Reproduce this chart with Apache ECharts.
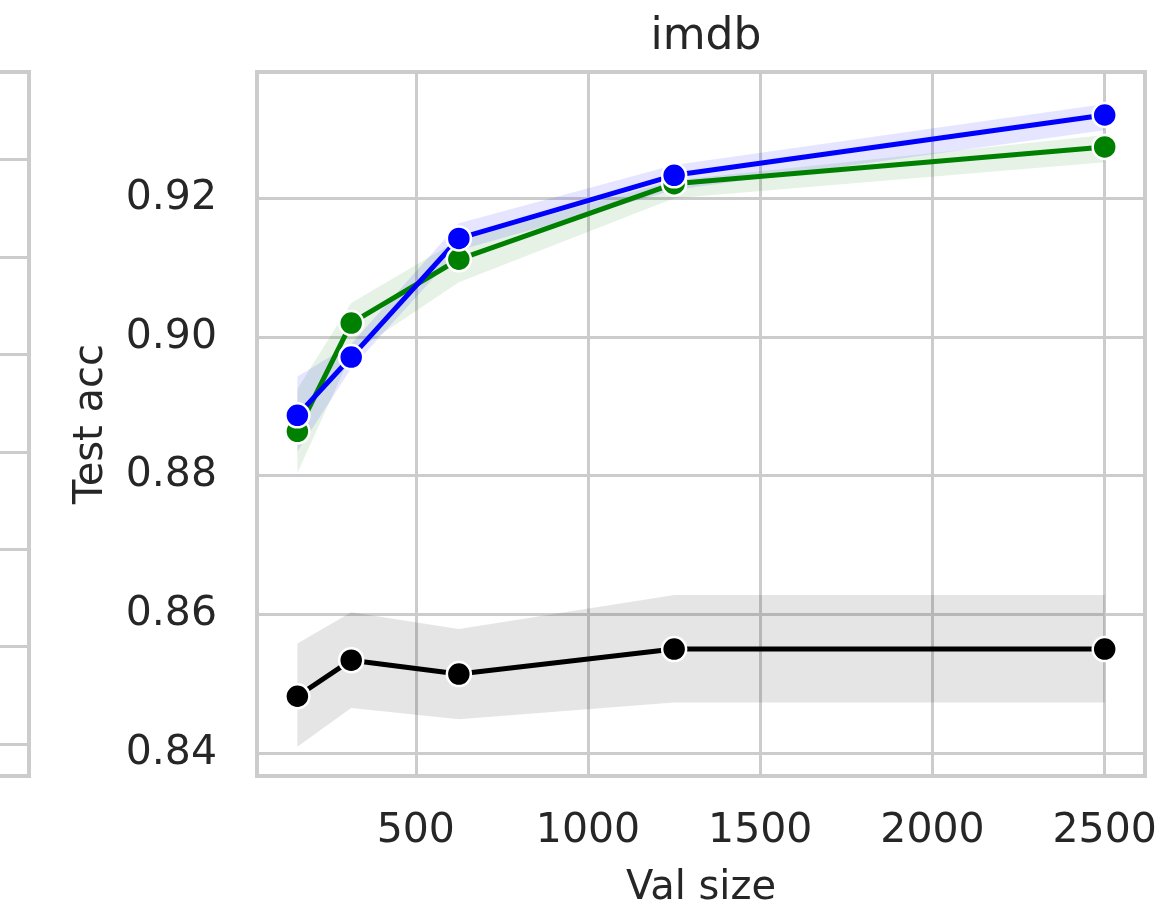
<!DOCTYPE html>
<html>
<head>
<meta charset="utf-8">
<script src="https://cdn.jsdelivr.net/npm/echarts@6/dist/echarts.min.js"></script>
<style>html,body{margin:0;padding:0;background:#fff}#c{width:1168px;height:911px}</style>
</head>
<body>
<div id="c"></div>
<script>
// ---- data ----
const valSizes = [156.25, 312.5, 625, 1250, 2500];
const blackMean = [0.8482, 0.8534, 0.8514, 0.8550, 0.8550];
const blackLow  = [0.8409, 0.8465, 0.8449, 0.8473, 0.8473];
const blackHigh = [0.8558, 0.8603, 0.8579, 0.8628, 0.8628];
const greenMean = [0.8864, 0.9020, 0.9112, 0.9221, 0.9274];
const greenLow  = [0.8804, 0.8975, 0.9079, 0.9200, 0.9252];
const greenHigh = [0.8925, 0.9049, 0.9140, 0.9226, 0.9291];
const blueMean  = [0.8887, 0.8971, 0.9142, 0.9233, 0.9320];
const blueLow   = [0.8835, 0.8955, 0.9125, 0.9212, 0.9298];
const blueHigh  = [0.8943, 0.8990, 0.9164, 0.9248, 0.9336];
const titleText = 'imdb';
const xName = 'Val size';
const yName = 'Test acc';

const FONT = 'DejaVu Sans';
const TXT = '#262626';
const GRIDC = '#cccccc';

function pts(ys){ return valSizes.map((x,i)=>[x, ys[i]]); }

function band(name, lo, hi, color){
  return {
    type:'custom', name:name+'_band', xAxisIndex:0, yAxisIndex:0, silent:true, z:1,
    data:[[valSizes[0], lo[0]]],
    renderItem:function(params, api){
      const upper = valSizes.map((x,i)=>api.coord([x, hi[i]]));
      const lower = valSizes.map((x,i)=>api.coord([x, lo[i]])).reverse();
      return {type:'polygon', shape:{points:upper.concat(lower)},
        style:{fill:color, opacity:0.1}};
    }
  };
}
function meanLine(name, ys, color){
  return {type:'line', name:name, xAxisIndex:0, yAxisIndex:0, data:pts(ys),
    symbol:'circle', symbolSize:24, showAllSymbol:true,
    lineStyle:{color:color, width:5},
    itemStyle:{color:color, borderColor:'#fff', borderWidth:2.5},
    z:3};
}

const chart = echarts.init(document.getElementById('c'));
chart.setOption({
  backgroundColor:'#fff',
  animation:false,
  title:{text:titleText, left:701, textAlign:'center', top:11,
    textStyle:{fontFamily:FONT, fontSize:44, fontWeight:'normal', color:TXT}},
  grid:[
    {left:257, right:23, top:72, bottom:135, show:true, borderColor:GRIDC, borderWidth:4,
     backgroundColor:'transparent', outerBoundsMode:'none', containLabel:false},
    {left:-200, width:229, top:72, bottom:135, show:true, borderColor:GRIDC, borderWidth:4,
     backgroundColor:'transparent', outerBoundsMode:'none', containLabel:false}
  ],
  xAxis:[
    {type:'value', gridIndex:0, min:39, max:2617, splitNumber:5,
     name:xName, nameLocation:'middle', nameGap:93,
     nameTextStyle:{fontFamily:FONT, fontSize:40, color:TXT},
     axisLine:{show:false}, axisTick:{show:false},
     axisLabel:{fontFamily:FONT, fontSize:41, color:TXT, margin:35, showMinLabel:false, showMaxLabel:false,
       formatter:v=>String(v)},
     splitLine:{show:true, lineStyle:{color:GRIDC, width:3}}},
    {type:'value', gridIndex:1, min:0, max:1, show:true,
     axisLine:{show:false}, axisTick:{show:false}, axisLabel:{show:false}, splitLine:{show:false}}
  ],
  yAxis:[
    {type:'value', gridIndex:0, min:0.8367, max:0.9382, splitNumber:5,
     name:yName, nameLocation:'middle', nameGap:145,
     nameTextStyle:{fontFamily:FONT, fontSize:40, color:TXT},
     axisLine:{show:false}, axisTick:{show:false},
     axisLabel:{fontFamily:FONT, fontSize:41, color:TXT, margin:40, showMinLabel:false, showMaxLabel:false,
       formatter:v=>v.toFixed(2)},
     splitLine:{show:true, lineStyle:{color:GRIDC, width:3}}},
    {type:'value', gridIndex:1, min:-0.33, max:6.9, splitNumber:7,
     axisLine:{show:false}, axisTick:{show:false}, axisLabel:{show:false},
     splitLine:{show:true, lineStyle:{color:GRIDC, width:3}}}
  ],
  series:[
    band('black', blackLow, blackHigh, '#000000'),
    band('green', greenLow, greenHigh, '#008000'),
    band('blue', blueLow, blueHigh, '#0000ff'),
    meanLine('black', blackMean, '#000000'),
    meanLine('green', greenMean, '#008000'),
    meanLine('blue', blueMean, '#0000ff')
  ]
});
</script>
</body>
</html>
